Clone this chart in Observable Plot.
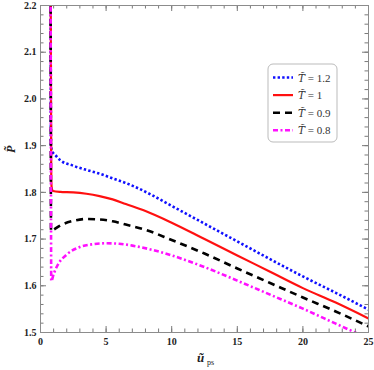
<!DOCTYPE html>
<html>
<head>
<meta charset="utf-8">
<script src="https://cdn.jsdelivr.net/npm/d3@7"></script>
<script src="https://cdn.jsdelivr.net/npm/@observablehq/plot@0.6"></script>
<style>
  html, body { margin: 0; padding: 0; background: #fff; }
</style>
</head>
<body>
<div id="chart"></div>
<script>
// ---- data ----
const seriesValues = ["1.2", "1", "0.9", "0.8"];

const uBlue = [0.77, 0.8, 0.9, 1.15, 1.5, 2.5, 3.5, 4.5, 5.5, 6.5, 7.5, 8.5, 10, 12.5, 15, 17.5, 20, 22.5, 25];
const pBlue = [2.3, 1.90, 1.888, 1.879, 1.869, 1.857, 1.848, 1.840, 1.830, 1.820, 1.808, 1.794, 1.771, 1.733, 1.695, 1.657, 1.620, 1.585, 1.549];

const uRed = [0.77, 0.82, 0.86, 0.95, 1.5, 2.5, 3.5, 4.5, 5.5, 6.5, 8, 10, 12.5, 15, 17.5, 20, 22.5, 25];
const pRed = [2.3, 1.83, 1.808, 1.803, 1.801, 1.800, 1.797, 1.792, 1.785, 1.775, 1.760, 1.735, 1.700, 1.665, 1.630, 1.595, 1.564, 1.530];

const uBlack = [0.77, 0.8, 1.0, 1.5, 2.5, 3.5, 4.5, 5.5, 6.5, 8, 10, 12.5, 15, 17.5, 20, 22.5, 25];
const pBlack = [2.3, 1.717, 1.720, 1.729, 1.739, 1.743, 1.742, 1.738, 1.731, 1.720, 1.698, 1.669, 1.637, 1.606, 1.575, 1.545, 1.513];

const uMagenta = [0.77, 0.82, 1.0, 1.3, 2.0, 3.0, 4.0, 5.0, 6.0, 7.0, 8.5, 10, 12.5, 15, 17.5, 20, 22.5, 25];
const pMagenta = [2.3, 1.610, 1.625, 1.644, 1.667, 1.683, 1.689, 1.691, 1.690, 1.686, 1.677, 1.665, 1.640, 1.611, 1.581, 1.551, 1.519, 1.487];

const xMajor = [0, 5, 10, 15, 20, 25];
const xMinor = d3.range(0, 26, 1);
const yMajor = [1.5, 1.6, 1.7, 1.8, 1.9, 2.0, 2.1, 2.2];
const yMinor = d3.range(75, 111).map(d => d / 50);

// ---- styles ----
const styles = [
  {stroke: "#1010ff", strokeWidth: 2.6, strokeDasharray: "2.4,2.2"},
  {stroke: "#ff1010", strokeWidth: 2.2, strokeDasharray: null},
  {stroke: "#000000", strokeWidth: 2.6, strokeDasharray: "7,5"},
  {stroke: "#ff10ff", strokeWidth: 2.6, strokeDasharray: "5,2.5,2,2.5"}
];

const W = 374, H = 370, ML = 40, MR = 6, MT = 5, MB = 38;
const FW = W - ML - MR, FH = H - MT - MB;
const xDomain = [0, 25], yDomain = [1.5, 2.2];
// tick lengths in pixels, converted to data units of each scale
const majorLen = 6, minorLen = 3.5;
const dxU = len => len * (xDomain[1] - xDomain[0]) / FW;
const dyU = len => len * (yDomain[1] - yDomain[0]) / FH;

const toRows = (us, ps) => us.map((u, i) => ({u, p: ps[i]}));
const series = [toRows(uBlue, pBlue), toRows(uRed, pRed), toRows(uBlack, pBlack), toRows(uMagenta, pMagenta)];

const serif = "'Liberation Serif', 'DejaVu Serif', serif";
const frameGray = "#8c8c8c";
const tickGray = "#7a7a7a";
const tickText = {fontFamily: serif, fontWeight: "bold", fontSize: 10, fill: "#222"};

const lineMarks = series.map((rows, i) => Plot.line(rows, {
  x: "u", y: "p", curve: "monotone-x", clip: true,
  stroke: styles[i].stroke, strokeWidth: styles[i].strokeWidth,
  strokeDasharray: styles[i].strokeDasharray, strokeLinecap: "butt"
}));

const tk = {stroke: tickGray, strokeWidth: 1};
const xTicks = (vals, len) => [
  Plot.ruleX(vals, {x: d => d, y1: yDomain[0], y2: yDomain[0] + dyU(len), ...tk}),
  Plot.ruleX(vals, {x: d => d, y1: yDomain[1], y2: yDomain[1] - dyU(len), ...tk})
];
const yTicks = (vals, len) => [
  Plot.ruleY(vals, {y: d => d, x1: xDomain[0], x2: xDomain[0] + dxU(len), ...tk}),
  Plot.ruleY(vals, {y: d => d, x1: xDomain[1], x2: xDomain[1] - dxU(len), ...tk})
];

const svg = Plot.plot({
  width: W,
  height: H,
  marginLeft: ML,
  marginRight: MR,
  marginTop: MT,
  marginBottom: MB,
  style: {background: "#fff", fontFamily: serif},
  x: {domain: xDomain},
  y: {domain: yDomain},
  marks: [
    ...lineMarks,
    ...xTicks(xMinor, minorLen), ...xTicks(xMajor, majorLen),
    ...yTicks(yMinor, minorLen), ...yTicks(yMajor, majorLen),
    Plot.frame({stroke: frameGray}),
    // tick labels
    Plot.axisX({anchor: "bottom", ticks: xMajor, tickSize: 0, tickPadding: 5, tickFormat: d => d, label: null, ...tickText}),
    Plot.axisY({anchor: "left", ticks: yMajor, tickSize: 0, tickPadding: 4, tickFormat: d3.format(".1f"), label: null, ...tickText}),
    // axis titles
    Plot.text(["ũ"], {frameAnchor: "bottom", dx: -4, dy: 29, fontFamily: serif, fontStyle: "italic", fontWeight: "bold", fontSize: 13, fill: "#222"}),
    Plot.text(["ps"], {frameAnchor: "bottom", dx: 6, dy: 32, fontFamily: serif, fontSize: 8, fill: "#222"}),
    Plot.text(["P̃"], {frameAnchor: "left", dx: -29, dy: -16, rotate: -90, fontFamily: serif, fontStyle: "italic", fontWeight: "bold", fontSize: 12, fill: "#222"})
  ]
});

// ---- legend (inside the plot, top right) ----
const lg = d3.select(svg).append("g").attr("transform", "translate(268,64)");
lg.append("rect").attr("width", 69).attr("height", 78).attr("rx", 5)
  .attr("fill", "#fff").attr("stroke", "#bbb").attr("stroke-width", 1);
seriesValues.forEach((val, i) => {
  const y = 13.5 + i * 17.6;
  lg.append("line").attr("x1", 5).attr("x2", 25).attr("y1", y).attr("y2", y)
    .attr("stroke", styles[i].stroke).attr("stroke-width", styles[i].strokeWidth)
    .attr("stroke-dasharray", styles[i].strokeDasharray);
  const t = lg.append("text").attr("x", 30).attr("y", y + 4)
    .attr("text-anchor", "start").attr("font-weight", "normal")
    .attr("font-family", serif).attr("font-size", 11).attr("fill", "#333");
  t.append("tspan").attr("font-family", "'DejaVu Serif', serif").attr("font-style", "italic").attr("font-size", 10.5).text("T̃");
  t.append("tspan").text(" = " + val);
});

document.getElementById("chart").appendChild(svg);
</script>
</body>
</html>
